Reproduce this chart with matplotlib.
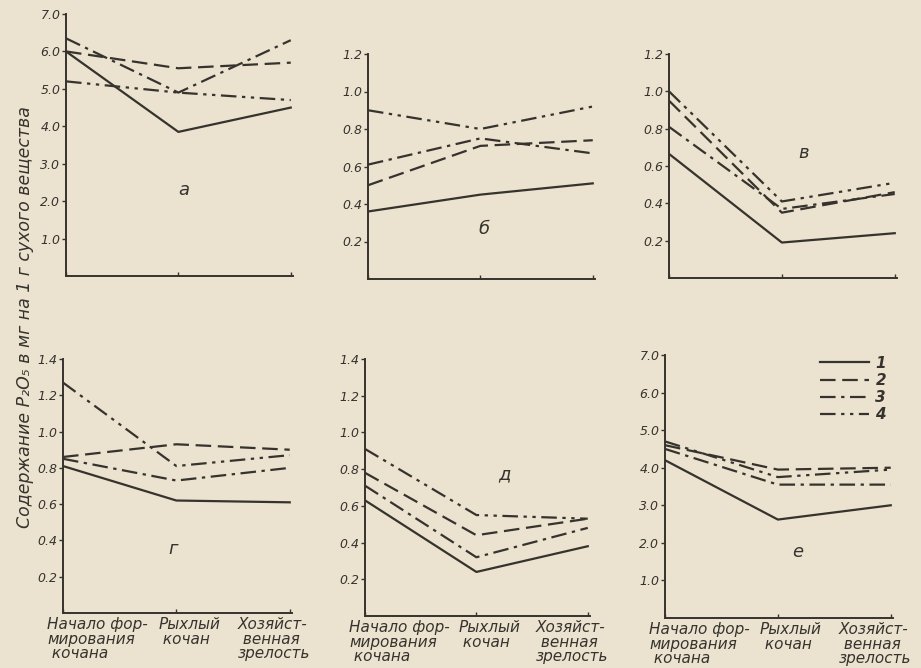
import matplotlib
matplotlib.use('Agg')
import matplotlib.pyplot as plt

# stages of head formation (x axis) and series 1..4
stages = ['Начало фор-\nмирования\n кочана', 'Рыхлый\n кочан', 'Хозяйст-\n венная\nзрелость']
series_names = ['1', '2', '3', '4']
letters = ['а', 'б', 'в', 'г', 'д', 'е']

# P2O5 content, mg per 1 g dry matter; rows = series 1..4
vals_a = [[6.0, 3.85, 4.5], [6.0, 5.55, 5.7], [6.35, 4.9, 6.3], [5.2, 4.9, 4.7]]
vals_b = [[0.36, 0.45, 0.51], [0.50, 0.71, 0.74], [0.61, 0.75, 0.67], [0.90, 0.80, 0.92]]
vals_v = [[0.665, 0.19, 0.24], [0.95, 0.35, 0.46], [0.81, 0.37, 0.45], [1.0, 0.41, 0.51]]
vals_g = [[0.81, 0.62, 0.61], [0.86, 0.93, 0.90], [0.85, 0.73, 0.80], [1.27, 0.81, 0.87]]
vals_d = [[0.63, 0.24, 0.38], [0.78, 0.44, 0.53], [0.71, 0.32, 0.48], [0.91, 0.55, 0.53]]
vals_e = [[4.2, 2.62, 3.0], [4.6, 3.95, 4.0], [4.5, 3.55, 3.55], [4.7, 3.75, 3.95]]

yticks_big = [1.0, 2.0, 3.0, 4.0, 5.0, 6.0, 7.0]
yticks_12 = [0.2, 0.4, 0.6, 0.8, 1.0, 1.2]
yticks_14 = [0.2, 0.4, 0.6, 0.8, 1.0, 1.2, 1.4]

paper = '#ebe3cf'
ink = '#36332e'
styles = ['-', (0, (7, 3)), (0, (7, 2.5, 1.5, 2.5)), (0, (7, 2.5, 1.5, 2.5, 1.5, 2.5))]

W, H = 921, 668
fig = plt.figure(figsize=(W / 100, H / 100), dpi=100, facecolor=paper)

# pixel boxes: left, right, top, bottom
boxes = [(66, 293, 14, 276), (368, 595, 54, 279), (669, 897, 54, 278),
         (63, 292, 359, 613), (365, 590, 359, 616), (665, 893, 355, 618)]
data = [vals_a, vals_b, vals_v, vals_g, vals_d, vals_e]
ytk = [yticks_big, yticks_12, yticks_12, yticks_14, yticks_14, yticks_big]
letter_pos = [(0.52, 0.33), (0.51, 0.22), (0.59, 0.56), (0.48, 0.25), (0.62, 0.55), (0.58, 0.25)]
xoff = [-16, -18, -52]   # label shift from its tick, px

for i in range(6):
    l, r, t, b = boxes[i]
    ax = fig.add_axes([l / W, 1 - b / H, (r - l) / W, (b - t) / H])
    ax.set_facecolor('none')
    for k, row in enumerate(data[i]):
        ax.plot(range(3), row, color=ink, lw=1.6, linestyle=styles[k], label=series_names[k])
    ax.set_xlim(0, 2.02)
    ax.set_ylim(0, ytk[i][-1])
    ax.set_yticks(ytk[i])
    ax.set_yticklabels(['%.1f' % v for v in ytk[i]], fontsize=9, style='italic', color=ink)
    ax.set_xticks([0, 1, 2])
    ax.set_xticklabels([])
    for s in ['top', 'right']:
        ax.spines[s].set_visible(False)
    for s in ['left', 'bottom']:
        ax.spines[s].set_color(ink)
        ax.spines[s].set_linewidth(1.4)
    ax.tick_params(axis='y', direction='out', length=3, width=1, colors=ink, pad=1)
    ax.tick_params(axis='x', direction='in', length=3, width=1, colors=ink)
    if i >= 3:
        for j, st in enumerate(stages):
            ax.annotate(st, xy=(j, 0), xycoords=('data', 'axes fraction'),
                        xytext=(xoff[j] * 0.72, -3), textcoords='offset points',
                        ha='left', va='top', fontsize=11, style='italic', color=ink,
                        linespacing=0.95, annotation_clip=False)
    ax.text(letter_pos[i][0], letter_pos[i][1], letters[i], transform=ax.transAxes,
            fontsize=13, style='italic', color=ink, ha='center', va='center')
    if i == 5:
        leg = ax.legend(loc='upper right', bbox_to_anchor=(1.03, 1.05), frameon=False,
                        handlelength=3.2, handletextpad=0.4, labelspacing=0.15,
                        prop={'size': 11, 'style': 'italic', 'weight': 'bold'})
        for txt in leg.get_texts():
            txt.set_color(ink)

fig.text(0.027, 0.525, 'Содержание P₂O₅ в мг на 1 г сухого вещества', rotation=90,
         fontsize=12.5, style='italic', color=ink, ha='center', va='center')

fig.savefig('out.png', dpi=100, facecolor=paper)
